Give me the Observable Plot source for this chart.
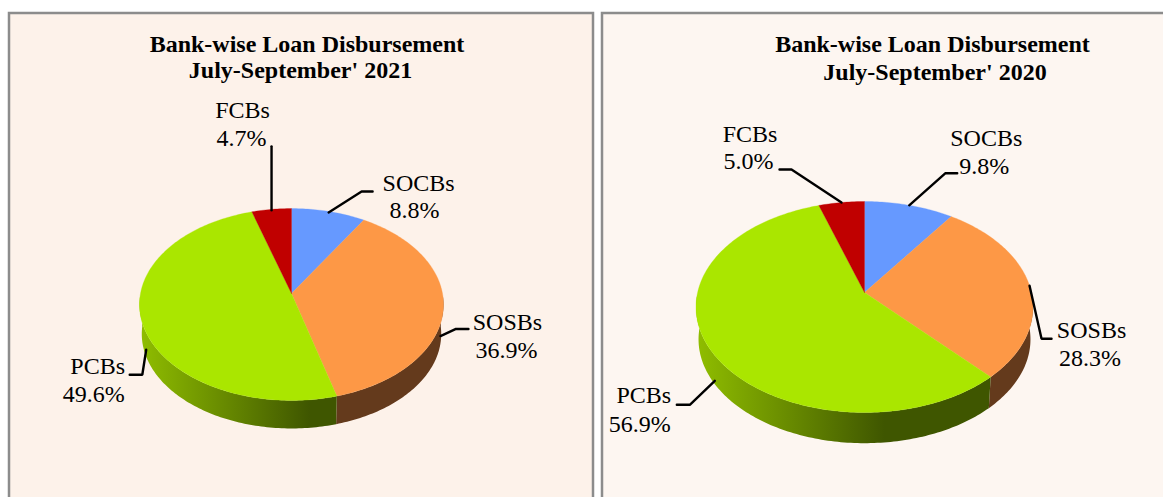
<!DOCTYPE html>
<html><head><meta charset="utf-8">
<style>html,body{margin:0;padding:0;background:#fff;overflow:hidden}svg{display:block}</style>
<script src="https://cdn.jsdelivr.net/npm/d3@7"></script>
<script src="https://cdn.jsdelivr.net/npm/@observablehq/plot@0.6"></script>
</head><body><script>
const categories = ["SOCBs","SOSBs","PCBs","FCBs"];
const values2021 = [8.8,36.9,49.6,4.7];
const values2020 = [9.8,28.3,56.9,5.0];
const valueLabels2021 = ["8.8%","36.9%","49.6%","4.7%"];
const valueLabels2020 = ["9.8%","28.3%","56.9%","5.0%"];
const sliceColors = ["#6699ff","#fd9846","#aae600","#c00000"];
const sideColors = {SOCBs:"#34507f",SOSBs:"#643a1c",FCBs:"#600000"};
const titleLine1 = "Bank-wise Loan Disbursement";
const titleLines2 = ["July-September' 2021","July-September' 2020"];
const serif = "'Liberation Serif','Times New Roman',serif";

// pie geometry for each panel
const panels = [
 {values:values2021,labels:valueLabels2021,title2:titleLines2[0],cx:291,cy:293,R:151,c:94.7,k:.1146,drop:29.6,bg:"#fdf2ea",
  frame:[9,593,13,510],titleX:[306.5,300],titleY:[52,78],
  leader:[[[0,1],[33,-20],[44,-20]],[[-3,29],[12,22],[25,22]],[[4.5,29],[.6,54],[-12,54]],[[0,1],[0,-63],[0,-63]]],
  nameAt:[[90,-20],[64,23],[-44,54],[-29,-91]],valueAt:[[86,7],[63,51],[-48,82],[-30,-63]]},
 {values:values2020,labels:valueLabels2020,title2:titleLines2[1],cx:864,cy:292,R:166.9,c:103.5,k:.1374,drop:32.5,bg:"#fdf6f1",
  frame:[602,1175,13,510],titleX:[932,934.5],titleY:[52.7,80],
  leader:[[[0,0],[36,-32],[48,-32]],[[0,0],[12,53],[22,53]],[[5,32],[-20,56],[-33,56]],[[0,0],[-50,-33],[-62,-33]]],
  nameAt:[[77,-59],[62,53],[-66,55],[-91.5,-60]],valueAt:[[75,-31],[60.5,81],[-70,84],[-93,-33]]}
];
const rad = Math.PI/180, shrink = .985, wallFrom = 92, wallTo = 268;
const rim = (p,deg,s=1,d=0)=>{
  const a=deg*rad, v=Math.cos(a), q=1+p.k*v;
  return {x:p.cx+p.R*s*Math.sin(a)/q, y:p.cy-p.c*s*v/q+d};
};

const tops=[], sides=[], leaders=[], names=[], vals=[], frames=[], titles=[];
panels.forEach((p,pi)=>{
  frames.push({x1:p.frame[0],x2:p.frame[1],y1:p.frame[2],y2:p.frame[3],bg:p.bg});
  titles.push({t:titleLine1,x:p.titleX[0],y:p.titleY[0]},{t:p.title2,x:p.titleX[1],y:p.titleY[1]});
  let start=0;
  categories.forEach((cat,i)=>{
    const a0=start*3.6, a1=(start+p.values[i])*3.6; start+=p.values[i];
    const id=`${pi}-${i}`;
    tops.push({id,cat,x:p.cx,y:p.cy});
    const n=Math.max(2,Math.ceil(a1-a0));
    for(let j=0;j<=n;j++){const r=rim(p,a0+(a1-a0)*j/n);tops.push({id,cat,...r});}
    tops.push({id,cat,x:p.cx,y:p.cy});
    // side wall: top rim forward, bottom rim back
    const sw=Math.max(a0,wallFrom), se=Math.min(a1,wallTo);
    if(se>sw){
      const col=cat==="PCBs"?`url(#wall${pi})`:sideColors[cat];
      const m2=Math.ceil(se-sw);
      for(let j=0;j<=m2;j++) sides.push({id,col,...rim(p,sw+(se-sw)*j/m2)});
      for(let j=m2;j>=0;j--) sides.push({id,col,...rim(p,sw+(se-sw)*j/m2,shrink,p.drop)});
    }
    // labels anchored on the rim at the slice's middle angle
    const m=rim(p,(a0+a1)/2);
    p.leader[i].forEach(o=>leaders.push({id,x:m.x+o[0],y:m.y+o[1]}));
    names.push({t:cat,x:m.x+p.nameAt[i][0],y:m.y+p.nameAt[i][1]});
    vals.push({t:p.labels[i],x:m.x+p.valueAt[i][0],y:m.y+p.valueAt[i][1]});
  });
});
// shading of the green wall, light on the left to dark near the middle
const wallGradients = ()=>{
  const defs=d3.create("svg:defs");
  panels.forEach((p,pi)=>{
    const g=defs.append("linearGradient").attr("id",`wall${pi}`).attr("gradientUnits","userSpaceOnUse")
      .attr("x1",p.cx-p.R).attr("x2",p.cx-p.R+2*p.R*.56).attr("y1",0).attr("y2",0);
    g.append("stop").attr("offset",0).attr("stop-color","#8fbd00");
    g.append("stop").attr("offset",1).attr("stop-color","#3f5600");
  });
  return defs.node();
};
const labelStyle={text:"t",x:"x",y:"y",fontFamily:serif,fontSize:24,fill:"#000",textAnchor:"middle",lineAnchor:"bottom",dy:-.5};
const chart=Plot.plot({
  width:1163,height:497,margin:0,
  x:{type:"linear",domain:[0,1163],range:[0,1163],axis:null},
  y:{type:"linear",domain:[0,497],range:[0,497],axis:null},
  color:{type:"ordinal",domain:categories,range:sliceColors},
  style:{background:"transparent"},
  marks:[
    wallGradients,
    Plot.rect(frames,{x1:"x1",x2:"x2",y1:"y1",y2:"y2",fill:{value:"bg",scale:null},stroke:"#8c8c8c",strokeWidth:2.5}),
    Plot.line(sides,{x:"x",y:"y",z:"id",fill:{value:"col",scale:null},stroke:"none"}),
    Plot.line(tops,{x:"x",y:"y",z:"id",fill:"cat",stroke:"cat",strokeWidth:.3}),
    Plot.line(leaders,{x:"x",y:"y",z:"id",stroke:"#000",strokeWidth:2.4,strokeLinejoin:"miter"}),
    Plot.text(titles,{text:"t",x:"x",y:"y",fontFamily:serif,fontSize:24,fontWeight:"bold",fill:"#000",textAnchor:"middle",lineAnchor:"bottom",dy:-1}),
    Plot.text(names,labelStyle),
    Plot.text(vals,labelStyle)
  ]
});
document.body.appendChild(chart);
</script></body></html>
